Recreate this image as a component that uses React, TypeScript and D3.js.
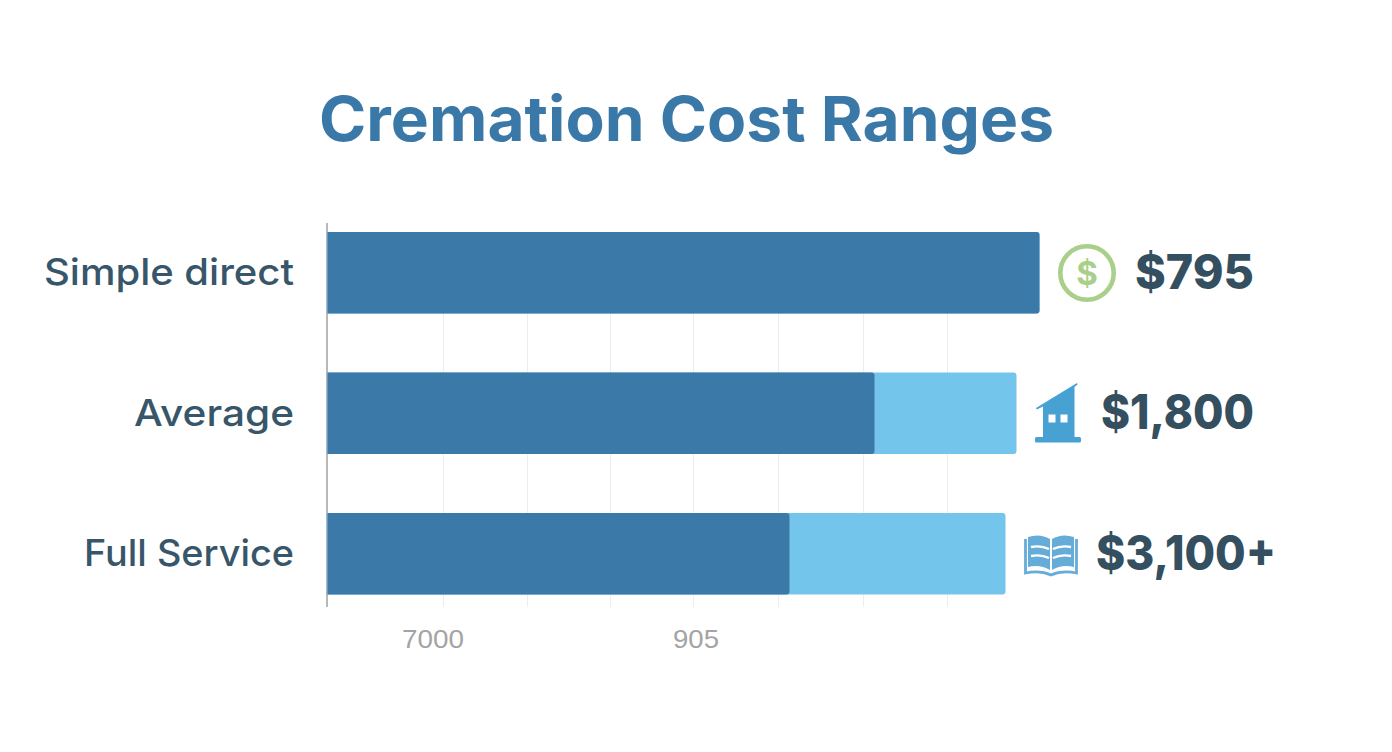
import React from "react";
import * as d3 from "d3";

const categories = ["Simple direct", "Average", "Full Service"];
const baseValues = [712, 547, 462];
const totalValues = [712, 689, 678];
const priceLabels = ["$795", "$1,800", "$3,100+"];
const gridValues = [116, 200, 283, 366, 451, 536, 620];
const tickTexts = ["7000", "905"];
const tickValues = [105.5, 368.5];
const tickWidths = [62, 46];
const labelWidths = [250, 160, 210];
const priceWidths = [119, 153, 180];
const priceEnd = [1254, 1254, 1276];

const W = 1392, H = 752;
const x = d3.scaleLinear().domain([0, 1000]).range([327.5, 1327.5]);
const y = d3.scaleBand().domain(categories).range([232, 594.5]).paddingInner(0.42).paddingOuter(0);

const DARK = "#3b79a9", LIGHT = "#74c5ec", TEXT = "#37566a", PRICE = "#344f60";

function rr(x0: number, y0: number, x1: number, y1: number, r: number) {
  return `M${x0},${y0}H${x1 - r}Q${x1},${y0} ${x1},${y0 + r}V${y1 - r}Q${x1},${y1} ${x1 - r},${y1}H${x0}Z`;
}

function Dollar() {
  return (
    <g transform="translate(1087,273)">
      <circle r={26.7} fill="none" stroke="#a9d08a" strokeWidth={4.6} />
      <text y={12} textAnchor="middle" fontFamily="Inter" fontWeight={700} fontSize={33} fill="#a9d08a">$</text>
    </g>
  );
}

function House() {
  return (
    <g transform="translate(1035,382)" fill="#47a1d3">
      <path d="M1,26 L42,1 L42.6,2.6 L39.5,5 V56 H8 V24.4 L1.8,27.6 Z" />
      <rect x={0} y={55} width={46} height={5.5} rx={1.5} />
      <rect x={13.5} y={32.5} width={7} height={8} fill="#fff" />
      <rect x={25.5} y={32.5} width={7} height={8} fill="#fff" />
    </g>
  );
}

function Book() {
  return (
    <g transform="translate(1024,534)">
      <path d="M4,3 Q16,-1 26,5 V36 Q16,30 4,33 Z" fill="#66acd9" />
      <path d="M50,3 Q38,-1 28,5 V36 Q38,30 50,33 Z" fill="#66acd9" />
      <path d="M7,13 Q17,11 25,15 M7,22 Q17,20 25,24 M47,13 Q37,11 29,15 M47,22 Q37,20 29,24" stroke="#fff" strokeWidth={2.4} fill="none" />
      <path d="M1.5,5 V39 Q16,36 27,41 Q38,36 52.5,39 V5" stroke="#66acd9" strokeWidth={2.8} fill="none" />
    </g>
  );
}

const icons = [Dollar, House, Book];

export default function App() {
  return (
    <svg width={W} height={H} viewBox={`0 0 ${W} ${H}`} style={{ position: "absolute", left: 0, top: 0, background: "#fff" }}>
      <text x={686.5} y={141} textAnchor="middle" fontFamily="Inter" fontWeight={700} fontSize={62} fill="#3a78a8" textLength={735} lengthAdjust="spacingAndGlyphs">Cremation Cost Ranges</text>
      {gridValues.map(v => (
        <line key={v} x1={x(v)} x2={x(v)} y1={232} y2={607} stroke="#ebeeef" strokeWidth={1} />
      ))}
      <line x1={327} x2={327} y1={223} y2={607} stroke="#a3a8aa" strokeWidth={1.6} />
      {categories.map((c, i) => {
        const y0 = y(c)!, y1 = y0 + y.bandwidth();
        const Icon = icons[i];
        const yMid = y0 + y.bandwidth() / 2;
        return (
          <g key={c}>
            <path d={rr(x(0), y0, x(totalValues[i]), y1, 3)} fill={LIGHT} />
            <path d={rr(x(0), y0, x(baseValues[i]), y1, 3)} fill={DARK} />
            <text x={294} y={yMid + 12.5} textAnchor="end" fontFamily="Inter" fontWeight={500} fontSize={37} fill={TEXT} textLength={labelWidths[i]} lengthAdjust="spacingAndGlyphs">{c}</text>
            <Icon />
            <text x={priceEnd[i]} y={yMid + 16} textAnchor="end" fontFamily="Inter" fontWeight={800} fontSize={48} fill={PRICE} textLength={priceWidths[i]} lengthAdjust="spacingAndGlyphs">{priceLabels[i]}</text>
          </g>
        );
      })}
      {tickTexts.map((t, i) => (
        <text key={t} x={x(tickValues[i])} y={647.5} textAnchor="middle" fontFamily="Liberation Sans" fontSize={26.5} fill="#a2a4a6" textLength={tickWidths[i]} lengthAdjust="spacingAndGlyphs">{t}</text>
      ))}
    </svg>
  );
}
